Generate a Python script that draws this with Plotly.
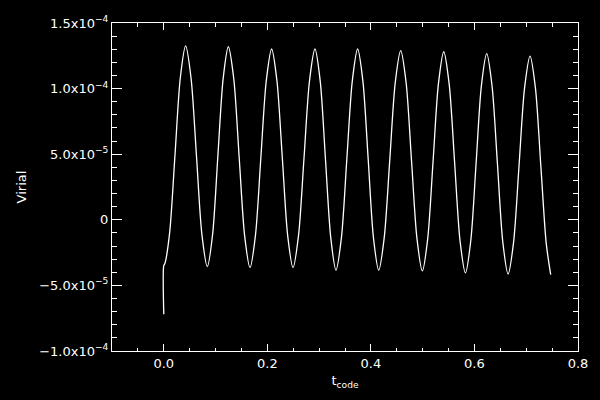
import plotly.graph_objects as go

# time (t_code) and virial values
t_code = [0.0, 0.0, 0.002, 0.0113, 0.0216, 0.0319, 0.0422,
          0.0527, 0.0632, 0.0736, 0.0841,
          0.0943, 0.1044, 0.1146, 0.1247,
          0.1352, 0.1456, 0.1561, 0.1665,
          0.1770, 0.1874, 0.1979, 0.2083,
          0.2186, 0.2290, 0.2393, 0.2496,
          0.2602, 0.2708, 0.2814, 0.2920,
          0.3022, 0.3123, 0.3225, 0.3326,
          0.3431, 0.3535, 0.3640, 0.3744,
          0.3846, 0.3948, 0.4049, 0.4151,
          0.4257, 0.4364, 0.4470, 0.4576,
          0.4681, 0.4785, 0.4890, 0.4994,
          0.5097, 0.5201, 0.5304, 0.5407,
          0.5512, 0.5617, 0.5721, 0.5826,
          0.5929, 0.6032, 0.6134, 0.6237,
          0.6340, 0.6444, 0.6547, 0.6650,
          0.6756, 0.6862, 0.6968, 0.7074,
          0.7178, 0.7282, 0.7386, 0.7473]
virial = [-7.2e-5, -3.48e-5, -3.35e-5, -1.0e-5, 4.90e-5, 1.081e-4, 1.325e-4,
          1.079e-4, 4.84e-5, -1.11e-5, -3.57e-5,
          -1.12e-5, 4.81e-5, 1.074e-4, 1.319e-4,
          1.073e-4, 4.77e-5, -1.19e-5, -3.65e-5,
          -1.21e-5, 4.69e-5, 1.058e-4, 1.302e-4,
          1.058e-4, 4.69e-5, -1.21e-5, -3.65e-5,
          -1.21e-5, 4.69e-5, 1.058e-4, 1.302e-4,
          1.055e-4, 4.60e-5, -1.36e-5, -3.83e-5,
          -1.36e-5, 4.60e-5, 1.055e-4, 1.302e-4,
          1.055e-4, 4.60e-5, -1.36e-5, -3.83e-5,
          -1.38e-5, 4.53e-5, 1.044e-4, 1.289e-4,
          1.043e-4, 4.50e-5, -1.44e-5, -3.90e-5,
          -1.45e-5, 4.46e-5, 1.036e-4, 1.281e-4,
          1.034e-4, 4.38e-5, -1.58e-5, -4.05e-5,
          -1.60e-5, 4.31e-5, 1.021e-4, 1.266e-4,
          1.020e-4, 4.27e-5, -1.67e-5, -4.13e-5,
          -1.70e-5, 4.18e-5, 1.005e-4, 1.248e-4,
          1.004e-4, 4.13e-5, -1.78e-5, -4.18e-5]

x_tickvals = [0.0, 0.2, 0.4, 0.6, 0.8]
x_ticktext = ["0.0", "0.2", "0.4", "0.6", "0.8"]
y_tickvals = [1.5e-4, 1.0e-4, 5.0e-5, 0.0, -5.0e-5, -1.0e-4]
y_ticktext = ["1.5x10<sup>\u22124</sup>", "1.0x10<sup>\u22124</sup>",
              "5.0x10<sup>\u22125</sup>", "0",
              "\u22125.0x10<sup>\u22125</sup>", "\u22121.0x10<sup>\u22124</sup>"]

fig = go.Figure()
fig.add_trace(go.Scatter(x=t_code, y=virial, mode="lines",
                         line=dict(color="white", width=1.3, shape="spline", smoothing=0.8),
                         showlegend=False, hoverinfo="skip"))

font = dict(family="DejaVu Sans", size=13, color="white")
fig.update_layout(
    width=600, height=400,
    paper_bgcolor="black", plot_bgcolor="black",
    margin=dict(l=112, r=15, t=23, b=49),
    font=font,
    xaxis=dict(range=[-0.1, 0.8], tickvals=x_tickvals, ticktext=x_ticktext,
               ticks="inside", ticklen=7, tickwidth=1, tickcolor="white",
               minor=dict(ticks="inside", dtick=0.05, ticklen=3.5, tickwidth=1, tickcolor="white"),
               showline=True, linecolor="white", linewidth=1, mirror="ticks",
               showgrid=False, zeroline=False, tickfont=font,
               title=dict(text="t<sub>code</sub>", font=font, standoff=6)),
    yaxis=dict(range=[-1.0e-4, 1.5e-4], tickvals=y_tickvals, ticktext=y_ticktext,
               ticks="inside", ticklen=10, tickwidth=1, tickcolor="white",
               minor=dict(ticks="inside", dtick=1e-5, ticklen=5, tickwidth=1, tickcolor="white"),
               showline=True, linecolor="white", linewidth=1, mirror="ticks",
               showgrid=False, zeroline=False, tickfont=font,
               title=dict(text="Virial", font=font, standoff=9)),
)

fig.write_html("out.html", config={"displayModeBar": False},
               post_script="document.body.style.margin='0';document.body.style.background='black';")
